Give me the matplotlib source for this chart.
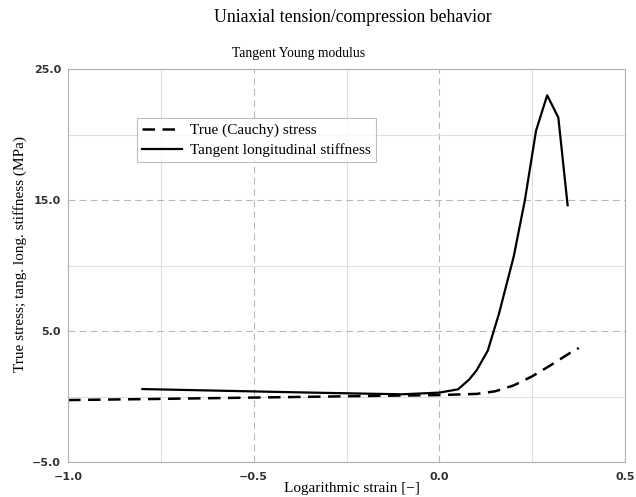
import numpy as np
import matplotlib
matplotlib.use("Agg")
import matplotlib.pyplot as plt
from matplotlib.ticker import MultipleLocator, FixedLocator

# data
strain_stress = [-1.0, -0.8, -0.6, -0.4, -0.2, 0.0, 0.1, 0.15, 0.2, 0.25, 0.3, 0.35, 0.375]
true_stress = [-0.27, -0.2, -0.12, -0.04, 0.04, 0.11, 0.2, 0.4, 0.85, 1.55, 2.4, 3.3, 3.7]

strain_stiff = [-0.8, -0.6, -0.4, -0.2, -0.1, 0.0, 0.05, 0.08, 0.1, 0.13, 0.16, 0.2, 0.23, 0.26, 0.29, 0.32, 0.345]
tang_stiffness = [0.57, 0.45, 0.33, 0.22, 0.17, 0.3, 0.55, 1.3, 2.0, 3.5, 6.3, 10.7, 15.0, 20.3, 23.0, 21.3, 14.6]

x_ticks = [-1.0, -0.5, 0.0, 0.5]
y_ticks = [-5.0, 5.0, 15.0, 25.0]

serif = "Liberation Serif"

fig = plt.figure(figsize=(6.36, 4.97), dpi=100)
ax = fig.add_axes([0.107, 0.0704, 0.876, 0.7906])

ax.plot(strain_stress, true_stress, color="black", linestyle=(0, (5, 3)), linewidth=1.8,
        label="True (Cauchy) stress")
ax.plot(strain_stiff, tang_stiffness, color="black", linestyle="-", linewidth=1.6,
        label="Tangent longitudinal stiffness")

ax.set_xlim(-1.0, 0.5)
ax.set_ylim(-5.0, 25.0)
ax.xaxis.set_major_locator(FixedLocator(x_ticks))
ax.yaxis.set_major_locator(FixedLocator(y_ticks))
ax.xaxis.set_minor_locator(MultipleLocator(0.25))
ax.yaxis.set_minor_locator(FixedLocator([0.0, 10.0, 20.0]))
ax.set_xticklabels(["\u22121.0", "\u22120.5", "0.0", "0.5"])
ax.set_yticklabels(["\u22125.0", "5.0", "15.0", "25.0"])

ax.grid(which="major", color="#b8b8b8", linestyle=(0, (6, 4)), linewidth=0.8)
ax.grid(which="minor", color="#e0e0e0", linestyle="-", linewidth=0.8)
ax.tick_params(which="both", length=0, labelsize=8)
ax.tick_params(axis="x", pad=7)
ax.tick_params(axis="y", pad=5)
for lab in ax.get_xticklabels() + ax.get_yticklabels():
    lab.set_fontweight("bold")
    lab.set_color("#333333")
for s in ax.spines.values():
    s.set_color("#b0b0b0")
    s.set_linewidth(0.8)

ax.set_xlabel("Logarithmic strain [\u2212]", family=serif, fontsize=11)
ax.set_ylabel("True stress; tang. long. stiffness (MPa)", family=serif, fontsize=11)
ax.xaxis.set_label_coords(0.51, -0.052)
ax.yaxis.set_label_coords(-0.074, 0.53)

fig.text(0.555, 0.965, "Uniaxial tension/compression behavior", family=serif, fontsize=12.8,
         ha="center", va="center")
fig.text(0.47, 0.893, "Tangent Young modulus", family=serif, fontsize=9.8,
         ha="center", va="center")

leg = ax.legend(loc="upper left", bbox_to_anchor=(0.11, 0.895), prop={"family": serif, "size": 11},
                frameon=True, fancybox=False, handlelength=2.6, handletextpad=0.5,
                borderpad=0.35, labelspacing=0.4)
leg.get_frame().set_edgecolor("#b0b0b0")
leg.get_frame().set_linewidth(0.8)

fig.savefig("out.png", dpi=100)
